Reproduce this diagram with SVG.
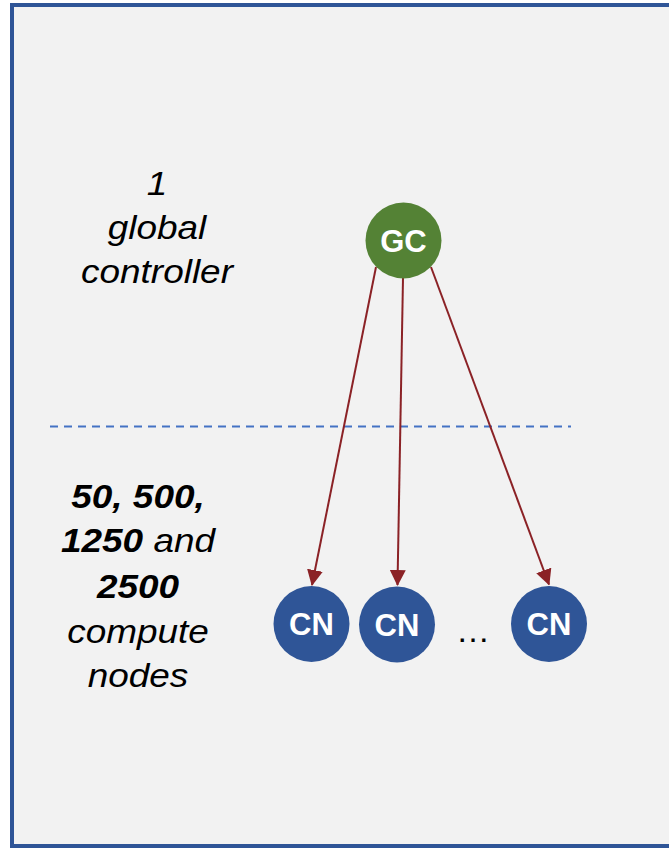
<svg xmlns="http://www.w3.org/2000/svg" width="669" height="849" viewBox="0 0 669 849">
  <style>
    .label { font-family: "Liberation Sans", Arial, sans-serif; font-size: 33px; fill: #000; text-anchor: middle; font-style: italic; }
    .bold { font-weight: bold; }
    .node-text { font-family: "Liberation Sans", Arial, sans-serif; font-size: 31px; font-weight: bold; fill: #fff; text-anchor: middle; }
    .gc { fill: #548235; }
    .cn { fill: #2F5597; }
    .edge { stroke: #8B2226; stroke-width: 2; fill: none; marker-end: url(#arrow); }
  </style>
  <defs>
    <marker id="arrow" markerUnits="userSpaceOnUse" markerWidth="16" markerHeight="16" viewBox="0 0 16 16" refX="15" refY="8" orient="auto">
      <path d="M0,0 L16,8 L0,16 Z" fill="#8B2226"/>
    </marker>
  </defs>

  <!-- panel -->
  <rect x="0" y="0" width="669" height="849" fill="#ffffff"/>
  <rect x="12" y="5" width="680" height="841" fill="#F2F2F2" stroke="#2F5597" stroke-width="4"/>

  <!-- tier separator -->
  <line x1="50" y1="426.5" x2="571" y2="426.5" stroke="#4472C4" stroke-width="2" stroke-dasharray="8 6"/>

  <!-- tier captions -->
  <g id="caption-controller" transform="translate(157,0) scale(1.12,1)">
    <text class="label" x="0" y="195">1</text>
    <text class="label" x="0" y="239">global</text>
    <text class="label" x="0" y="283">controller</text>
  </g>
  <g id="caption-nodes" transform="translate(138,0) scale(1.12,1)">
    <text class="label bold" x="0" y="508">50, 500,</text>
    <text class="label" x="0" y="552"><tspan class="bold">1250</tspan> and</text>
    <text class="label bold" x="0" y="598">2500</text>
    <text class="label" x="0" y="643">compute</text>
    <text class="label" x="0" y="687">nodes</text>
  </g>

  <!-- connectors -->
  <g id="connectors">
    <line class="edge" x1="376" y1="267" x2="312" y2="585"/>
    <line class="edge" x1="403" y1="278" x2="397.5" y2="585"/>
    <line class="edge" x1="431" y1="267" x2="549" y2="584.5"/>
  </g>

  <!-- nodes -->
  <g id="gc">
    <circle class="gc" cx="403.5" cy="240.5" r="38"/>
    <text class="node-text" x="403.5" y="251.5">GC</text>
  </g>
  <g id="cn1">
    <circle class="cn" cx="311.5" cy="624" r="38"/>
    <text class="node-text" x="311.5" y="635">CN</text>
  </g>
  <g id="cn2">
    <circle class="cn" cx="397" cy="624.5" r="38"/>
    <text class="node-text" x="397" y="635.5">CN</text>
  </g>
  <g id="ellipsis">
    <text x="473" y="642" font-family="'Liberation Sans', Arial, sans-serif" font-size="34" text-anchor="middle" fill="#000">…</text>
  </g>
  <g id="cn3">
    <circle class="cn" cx="549" cy="624" r="38"/>
    <text class="node-text" x="549" y="635">CN</text>
  </g>
</svg>
